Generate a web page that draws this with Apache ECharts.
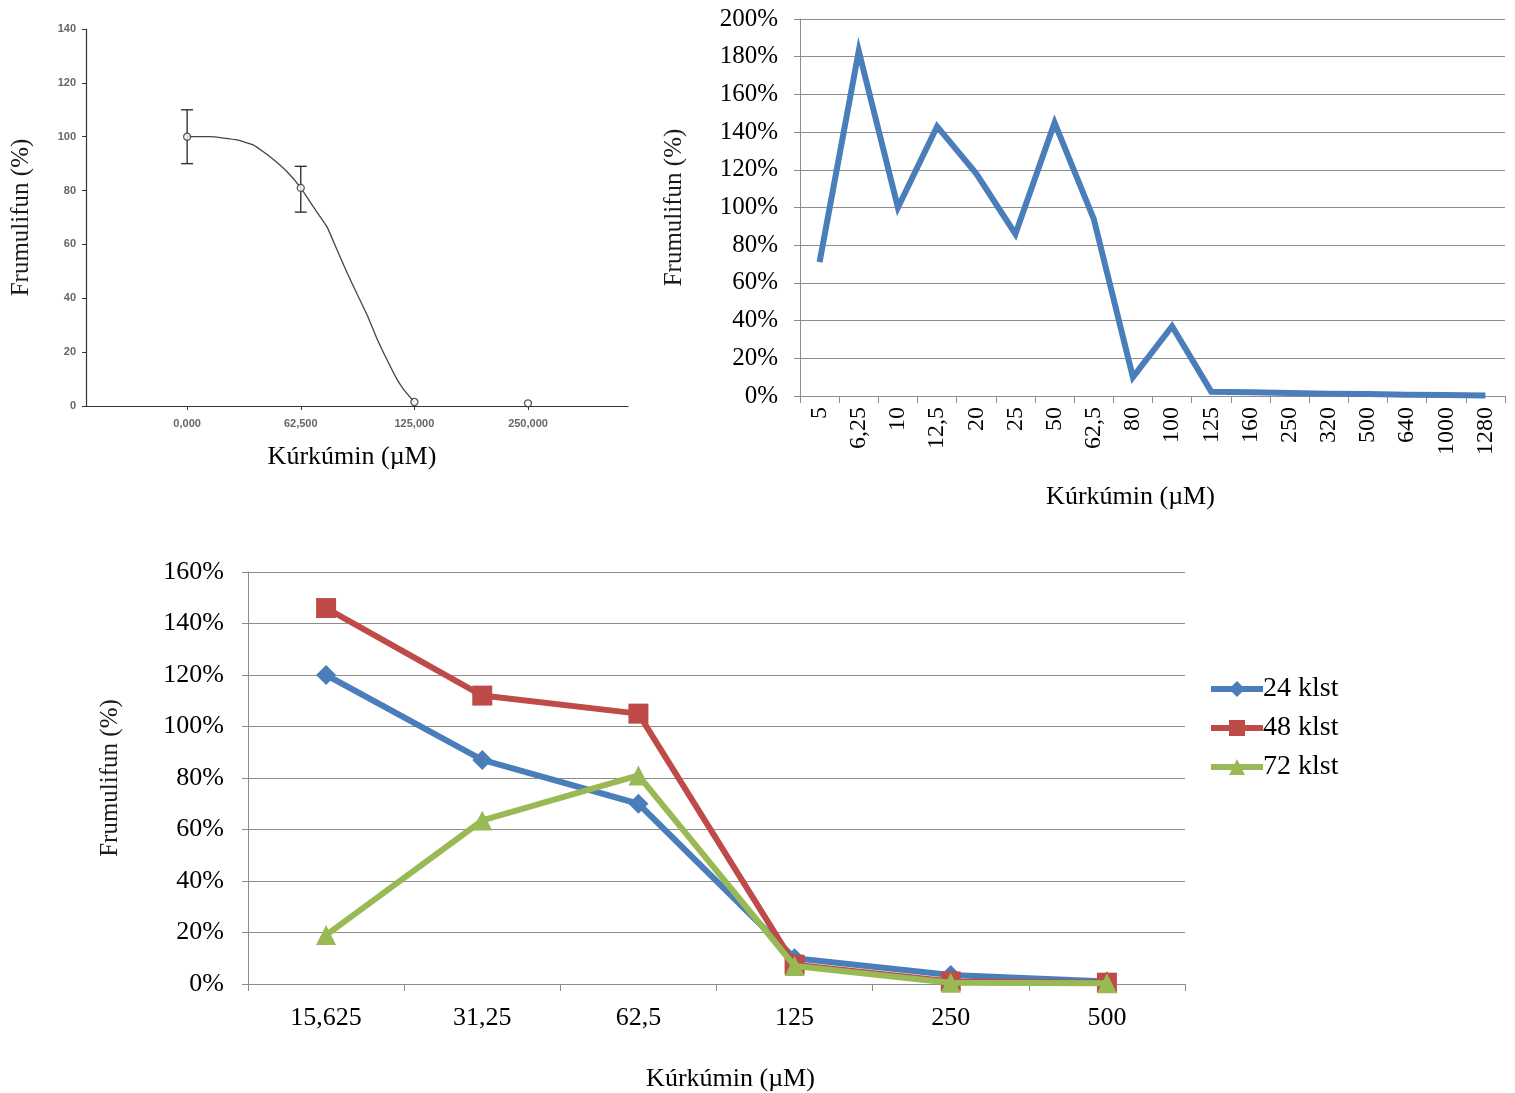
<!DOCTYPE html>
<html>
<head>
<meta charset="utf-8">
<script src="https://cdn.jsdelivr.net/npm/echarts@6/dist/echarts.min.js"></script>
<style>
html,body{margin:0;padding:0;background:#fff;}
#c{width:1515px;height:1093px;}
</style>
</head>
<body>
<div id="c"></div>
<script>
// ---------- Chart A (top-left): dose-response with error bars ----------
const aDoseLabels = ['0,000', '62,500', '125,000', '250,000'];
const aDosePos = [0, 1, 2, 3];
const aMean = [100, 81, 1.5, 1];
const aErrLow = [90, 72, 1.5, 1];
const aErrHigh = [110, 89, 1.5, 1];
const aFitX = [0, 0.2, 0.44, 0.585, 0.73, 0.88, 1, 1.11, 1.23, 1.32, 1.41, 1.5, 1.59, 1.67, 1.76, 1.85, 1.91, 2];
const aFitY = [100, 100, 98.8, 96.9, 92.6, 87, 81, 74, 66.6, 57.9, 49.3, 41.2, 33.2, 25.1, 17.1, 9.7, 5.9, 1.5];

// ---------- Chart B (top-right) ----------
const bCats = ['5', '6,25', '10', '12,5', '20', '25', '50', '62,5', '80', '100', '125', '160', '250', '320', '500', '640', '1000', '1280'];
const bValues = [71, 183, 100, 143, 118, 86, 145, 94, 10, 37, 2.3, 2, 1.6, 1.2, 1, 0.7, 0.5, 0.3];

// ---------- Chart C (bottom) ----------
const cCats = ['15,625', '31,25', '62,5', '125', '250', '500'];
const c24 = [120, 87, 70, 10, 3.5, 1];
const c48 = [146, 112, 105, 7.5, 1, 0.5];
const c72 = [19, 63.5, 81, 7, 0.5, 0.3];
const cNames = ['24 klst', '48 klst', '72 klst'];

const serif = 'Liberation Serif, Times New Roman, serif';
const sans = 'Liberation Sans, Arial, sans-serif';
const gridGrey = '#8c8c8c';

const chart = echarts.init(document.getElementById('c'), null, {renderer: 'canvas'});

const errData = aDosePos.map((x, i) => [x, aErrLow[i], aErrHigh[i]]);

const option = {
  animation: false,
  backgroundColor: '#fff',
  grid: [
    {left: 86, top: 29, width: 542, height: 377},
    {left: 800, top: 19, width: 705, height: 377},
    {left: 248, top: 572, width: 937, height: 413}
  ],
  legend: {
    data: cNames,
    orient: 'vertical',
    left: 1203,
    top: 670,
    itemWidth: 52,
    itemHeight: 20,
    itemGap: 11,
    lineStyle: {width: 6},
    textStyle: {fontFamily: serif, fontSize: 28, color: '#000', padding: [0, 0, 0, -5]}
  },
  xAxis: [
    {
      gridIndex: 0, type: 'value', min: -0.89, max: 3.88,
      axisLine: {onZero: false, lineStyle: {color: '#333', width: 1.2}},
      axisTick: {show: true, length: 4, customValues: aDosePos, lineStyle: {color: '#333'}},
      axisLabel: {customValues: aDosePos, formatter: v => aDoseLabels[aDosePos.indexOf(Math.round(v))] || '',
        fontFamily: sans, fontSize: 11, fontWeight: 'bold', color: '#666', margin: 12},
      splitLine: {show: false},
      name: 'Kúrkúmin (µM)', nameLocation: 'middle', nameGap: 38,
      nameTextStyle: {fontFamily: serif, fontSize: 26, color: '#000', padding: [0, 10, 0, 0]}
    },
    {
      gridIndex: 1, type: 'category', data: bCats, boundaryGap: true,
      axisLine: {lineStyle: {color: gridGrey}},
      axisTick: {show: true, length: 7, lineStyle: {color: gridGrey}},
      axisLabel: {rotate: 90, fontFamily: serif, fontSize: 24, color: '#000', margin: 11, interval: 0},
      name: 'Kúrkúmin (µM)', nameLocation: 'middle', nameGap: 88,
      nameTextStyle: {fontFamily: serif, fontSize: 26, color: '#000', padding: [0, 44, 0, 0]}
    },
    {
      gridIndex: 2, type: 'category', data: cCats, boundaryGap: true,
      axisLine: {lineStyle: {color: gridGrey}},
      axisTick: {show: true, length: 7, lineStyle: {color: gridGrey}},
      axisLabel: {fontFamily: serif, fontSize: 26, color: '#000', margin: 21, interval: 0},
      name: 'Kúrkúmin (µM)', nameLocation: 'middle', nameGap: 82,
      nameTextStyle: {fontFamily: serif, fontSize: 26, color: '#000', padding: [0, 0, 0, 28]}
    }
  ],
  yAxis: [
    {
      gridIndex: 0, type: 'value', min: 0, max: 140, interval: 20,
      axisLine: {show: true, onZero: false, lineStyle: {color: '#333', width: 1.2}},
      axisTick: {show: true, length: 4, lineStyle: {color: '#333'}},
      axisLabel: {fontFamily: sans, fontSize: 11, fontWeight: 'bold', color: '#666', margin: 10},
      splitLine: {show: false},
      name: 'Frumulifun (%)', nameLocation: 'middle', nameGap: 52, nameRotate: 90,
      nameTextStyle: {fontFamily: serif, fontSize: 25, color: '#1a1a1a'}
    },
    {
      gridIndex: 1, type: 'value', min: 0, max: 200, interval: 20,
      axisLine: {show: true, lineStyle: {color: gridGrey}},
      axisTick: {show: true, length: 6, lineStyle: {color: gridGrey}},
      axisLabel: {formatter: '{value}%', fontFamily: serif, fontSize: 25, color: '#000', margin: 22},
      splitLine: {show: true, lineStyle: {color: gridGrey, width: 1.2}},
      name: 'Frumulifun (%)', nameLocation: 'middle', nameGap: 113, nameRotate: 90,
      nameTextStyle: {fontFamily: serif, fontSize: 25, color: '#1a1a1a'}
    },
    {
      gridIndex: 2, type: 'value', min: 0, max: 160, interval: 20,
      axisLine: {show: true, lineStyle: {color: gridGrey}},
      axisTick: {show: true, length: 6, lineStyle: {color: gridGrey}},
      axisLabel: {formatter: '{value}%', fontFamily: serif, fontSize: 26, color: '#000', margin: 24},
      splitLine: {show: true, lineStyle: {color: gridGrey, width: 1.2}},
      name: 'Frumulifun (%)', nameLocation: 'middle', nameGap: 125, nameRotate: 90,
      nameTextStyle: {fontFamily: serif, fontSize: 25, color: '#1a1a1a'}
    }
  ],
  series: [
    {
      type: 'line', name: 'fit', xAxisIndex: 0, yAxisIndex: 0,
      data: aFitX.map((x, i) => [x, aFitY[i]]),
      smooth: 0.12, showSymbol: false, symbol: 'none',
      lineStyle: {color: '#444', width: 1.3}, z: 2
    },
    {
      type: 'custom', name: 'err', xAxisIndex: 0, yAxisIndex: 0,
      data: errData,
      renderItem: function (params, api) {
        const lo = api.coord([api.value(0), api.value(1)]);
        const hi = api.coord([api.value(0), api.value(2)]);
        if (Math.abs(lo[1] - hi[1]) < 2) return null;
        const cap = 6;
        const st = {stroke: '#333', lineWidth: 1.4};
        return {
          type: 'group',
          children: [
            {type: 'line', shape: {x1: lo[0], y1: lo[1], x2: hi[0], y2: hi[1]}, style: st},
            {type: 'line', shape: {x1: lo[0] - cap, y1: lo[1], x2: lo[0] + cap, y2: lo[1]}, style: st},
            {type: 'line', shape: {x1: hi[0] - cap, y1: hi[1], x2: hi[0] + cap, y2: hi[1]}, style: st}
          ]
        };
      },
      z: 3
    },
    {
      type: 'scatter', name: 'mean', xAxisIndex: 0, yAxisIndex: 0,
      data: aDosePos.map((x, i) => [x, aMean[i]]),
      symbol: 'circle', symbolSize: 7,
      itemStyle: {color: '#fff', borderColor: '#333', borderWidth: 1.3}, z: 4
    },
    {
      type: 'line', name: 'B', xAxisIndex: 1, yAxisIndex: 1,
      data: bValues, symbol: 'none', showSymbol: false,
      lineStyle: {color: '#4a7ebb', width: 6, join: 'miter'}
    },
    {
      type: 'line', name: cNames[0], xAxisIndex: 2, yAxisIndex: 2,
      data: c24, symbol: 'diamond', symbolSize: 20,
      itemStyle: {color: '#4a7ebb'}, lineStyle: {color: '#4a7ebb', width: 6}, z: 3
    },
    {
      type: 'line', name: cNames[1], xAxisIndex: 2, yAxisIndex: 2,
      data: c48, symbol: 'rect', symbolSize: 20,
      itemStyle: {color: '#be4b48'}, lineStyle: {color: '#be4b48', width: 6}, z: 4
    },
    {
      type: 'line', name: cNames[2], xAxisIndex: 2, yAxisIndex: 2,
      data: c72, symbol: 'triangle', symbolSize: 20,
      itemStyle: {color: '#98b954'}, lineStyle: {color: '#98b954', width: 6}, z: 5
    }
  ]
};

chart.setOption(option);
</script>
</body>
</html>
